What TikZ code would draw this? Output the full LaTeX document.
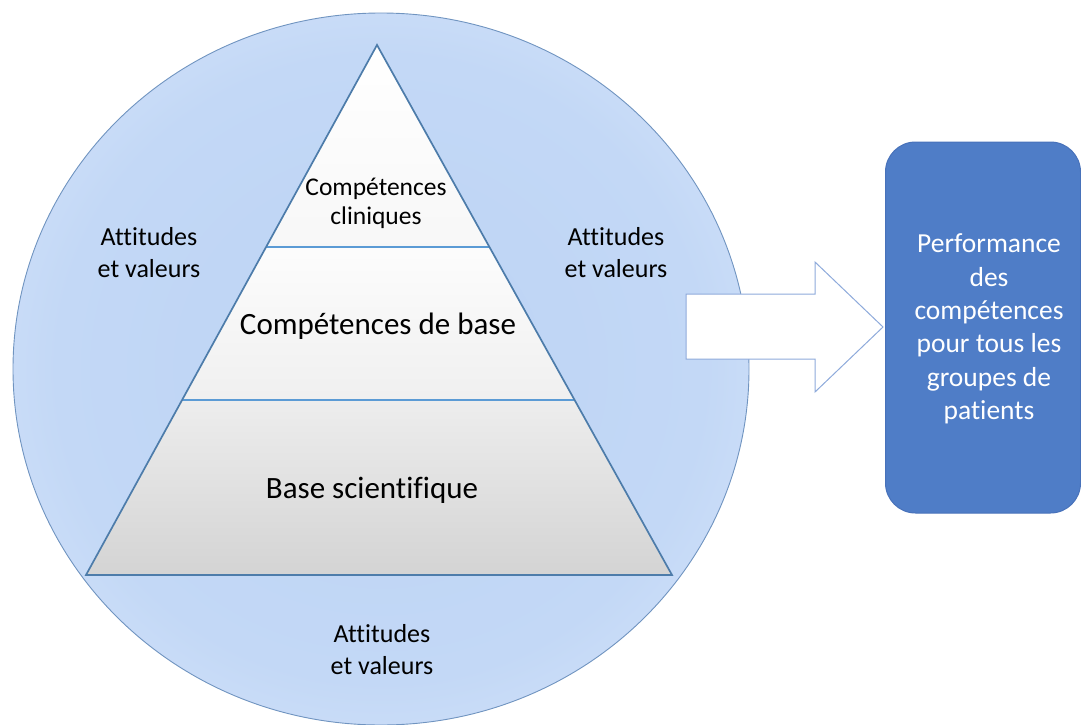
\documentclass[tikz,border=0pt]{standalone}
\usepackage{fontspec}
\setmainfont{Carlito}[Ligatures=NoCommon]
\usetikzlibrary{calc}
\definecolor{attin}{HTML}{BCD3F4}
\definecolor{attmid}{HTML}{C3D8F6}
\definecolor{attout}{HTML}{D9E7FA}
\definecolor{circline}{HTML}{7094C0}
\definecolor{triline}{HTML}{4D7CAA}
\definecolor{divline}{HTML}{5B9BD5}
\definecolor{arrline}{HTML}{8EAADB}
\definecolor{boxfill}{HTML}{4F7DC7}
\definecolor{boxline}{HTML}{4872BA}
\pgfdeclareradialshading{attshade}{\pgfpoint{0bp}{0bp}}{color(0bp)=(attin); color(22bp)=(attmid); color(35bp)=(attout); color(50bp)=(attout)}
\tikzset{
  attlabel/.style={align=center, text=black, font=\fontsize{26}{32}\selectfont, inner sep=0pt},
  levellabel/.style={align=center, text=black, inner sep=0pt},
  divider/.style={draw=divline, line width=1.4pt},
  pyramidedge/.style={draw=triline, line width=1.7pt, line join=miter},
  blockarrow/.style={draw=arrline, line width=1pt, fill=white, line join=miter},
  perfbox/.style={draw=boxline, line width=1pt, fill=boxfill, rounded corners=30pt, minimum width=195pt, minimum height=371pt, inner sep=0pt},
  perftext/.style={align=center, text=white, font=\fontsize{27.5}{33.4}\selectfont, inner sep=0pt}
}
\begin{document}
\begin{tikzpicture}[x=1pt, y=-1pt]
\useasboundingbox (0,0) rectangle (1081,725);
% outer ellipse
\path[shading=attshade, draw=circline, line width=0.9pt] (381,369) ellipse [x radius=368pt, y radius=356pt];
% pyramid
\coordinate (A) at (377,45);
\coordinate (BL) at (86,575);
\coordinate (BR) at (672,575);
\coordinate (L1) at ($(A)!0.3811!(BL)$);
\coordinate (R1) at ($(A)!0.3811!(BR)$);
\coordinate (L2) at ($(A)!0.6698!(BL)$);
\coordinate (R2) at ($(A)!0.6698!(BR)$);
\shade[top color=white, bottom color=white!97!black] (A)--(L1)--(R1)--cycle;
\shade[top color=white!99!black, bottom color=white!94!black] (L1)--(L2)--(R2)--(R1)--cycle;
\shade[top color=white!93!black, bottom color=white!83!black] (L2)--(BL)--(BR)--(R2)--cycle;
\draw[divider] (L1)--(R1);
\draw[divider] (L2)--(R2);
\draw[pyramidedge] (A)--(BL)--(BR)--cycle;
% labels in pyramid
\node[levellabel, font=\fontsize{25.5}{29}\selectfont] (clin) at (376,203) {Compétences\\cliniques};
\node[levellabel, font=\fontsize{31}{36}\selectfont] (basec) at (378,326) {Compétences de base};
\node[levellabel, font=\fontsize{31}{36}\selectfont] (scien) at (372,490) {Base scientifique};
% attitudes labels
\node[attlabel] (attl) at (149,253) {Attitudes\\et valeurs};
\node[attlabel] (attr) at (616,253) {Attitudes\\et valeurs};
\node[attlabel] (attb) at (382,650) {Attitudes\\et valeurs};
% block arrow
\draw[blockarrow] (686,294) -- (815,294) -- (815,262) -- (883,327) -- (815,392) -- (815,359) -- (686,359) -- cycle;
% performance box
\node[perfbox] (perf) at (983,327.5) {};
\node[perftext] (perftxt) at (989,329) {Performance\\des\\compétences\\pour tous les\\groupes de\\patients};
\end{tikzpicture}
\end{document}
